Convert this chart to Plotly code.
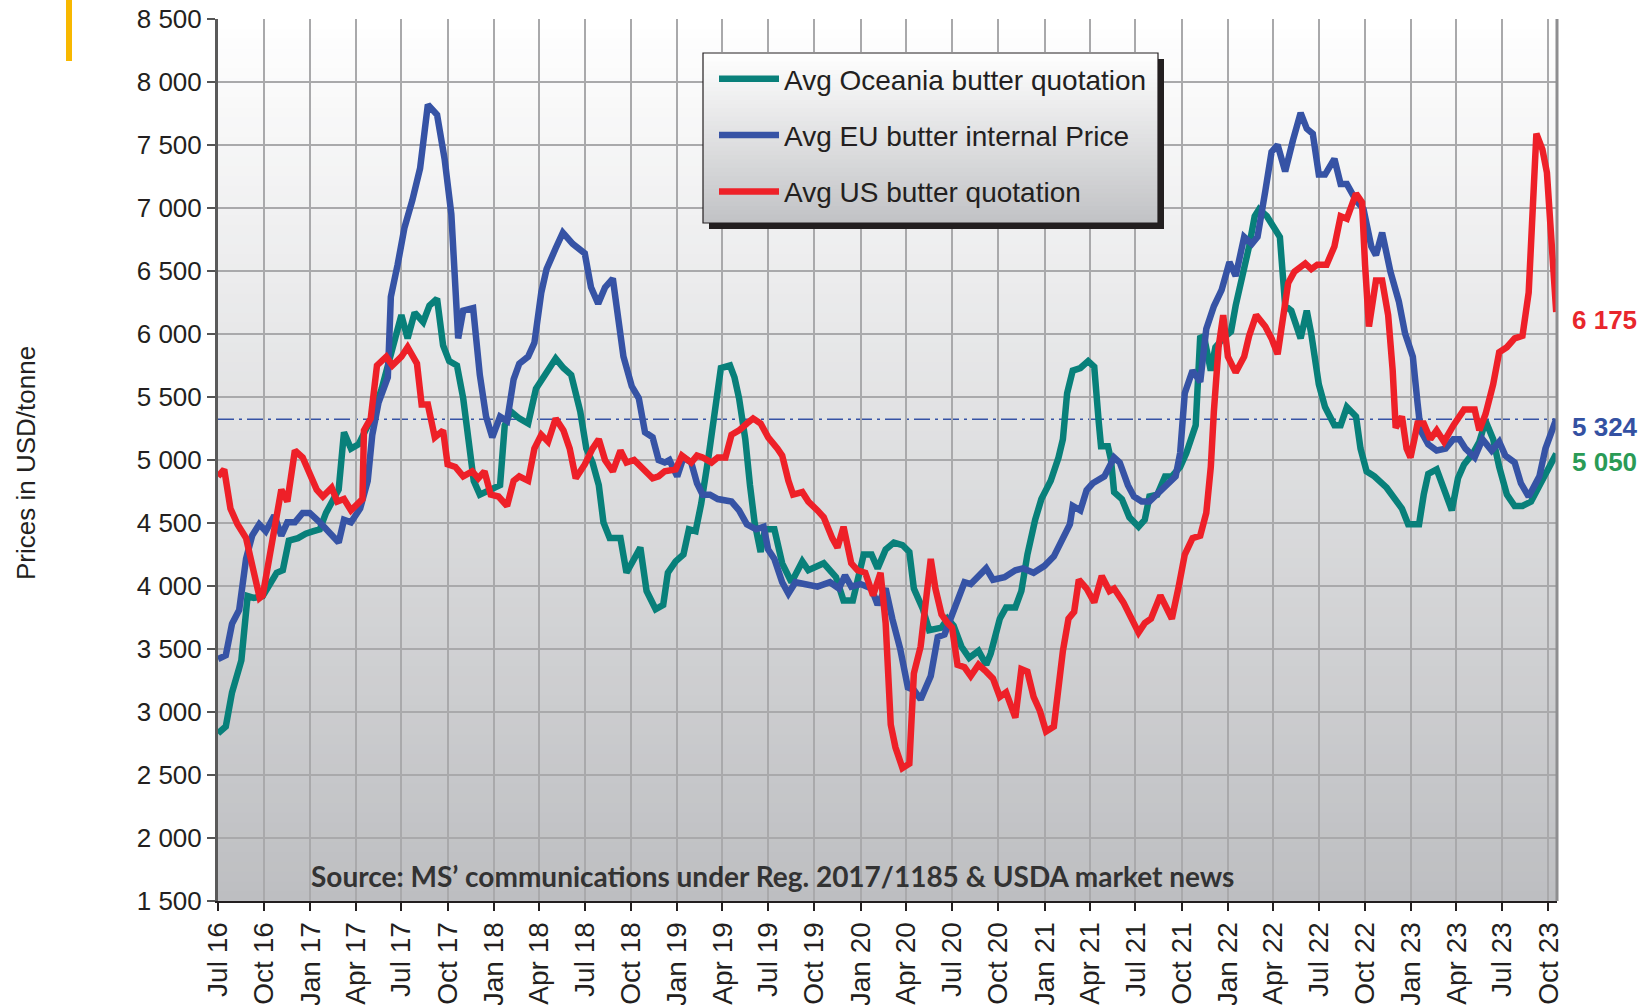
import calendar
from datetime import datetime, timedelta
import plotly.graph_objects as go

# ---------------- data (month offset from Jul 2016, USD/tonne) ----------------
OCEANIA = [(0,2830),(0.5,2885),(0.9,3155),(1.5,3410),(1.9,3920),(2.3,3905),(2.9,3920),(3.3,3995),(3.8,4105),(4.2,4125),
    (4.6,4360),(5.2,4380),(5.7,4415),(6.2,4435),(6.6,4450),(7.0,4580),(7.6,4710),(7.9,4765),(8.25,5220),(8.7,5090),
    (9.2,5125),(9.7,5235),(10.1,5345),(10.7,5565),(11.2,5785),(11.6,5965),(12.0,6150),(12.4,5965),(12.85,6170),(13.4,6095),
    (13.8,6225),(14.3,6280),(14.7,5910),(15.1,5785),(15.6,5750),(16.0,5490),(16.3,5165),(16.7,4835),(17.1,4725),(17.8,4765),
    (18.4,4800),(18.7,5275),(19.1,5385),(19.7,5330),(20.3,5290),(20.8,5565),(21.4,5675),(21.7,5710),(22.1,5805),(22.6,5730),
    (23.1,5675),(23.7,5385),(24.1,5090),(24.5,4980),(24.9,4800),(25.2,4505),(25.6,4380),(26.3,4380),(26.7,4105),(27.6,4305),
    (28.0,3960),(28.6,3815),(29.1,3850),(29.4,4105),(29.9,4195),(30.4,4250),(30.75,4450),(31.2,4435),(31.6,4655),(32.1,5020),
    (32.3,5220),(32.6,5455),(32.9,5730),(33.5,5750),(33.8,5655),(34.1,5490),(34.5,5165),(34.8,4800),(35.1,4505),(35.5,4270),
    (35.8,4450),(36.4,4450),(36.9,4180),(37.5,4030),(38.2,4195),(38.6,4125),(39.6,4180),(40.4,4070),(40.9,3885),(41.5,3885),
    (41.9,4070),(42.2,4250),(42.7,4250),(43.1,4140),(43.65,4290),(44.2,4345),(44.75,4325),(45.2,4270),(45.5,3980),(46.1,3815),
    (46.5,3650),(47.3,3670),(47.7,3740),(48.1,3685),(48.6,3520),(49.1,3430),(49.7,3485),(50.2,3375),(50.5,3465),(51.1,3740),
    (51.5,3830),(52.1,3830),(52.5,3960),(52.9,4250),(53.4,4525),(53.8,4690),(54.4,4835),(54.9,5020),(55.2,5165),(55.5,5530),
    (55.9,5710),(56.4,5730),(56.9,5785),(57.3,5740),(57.6,5300),(57.75,5110),(58.2,5110),(58.4,5000),(58.6,4745),(59.1,4690),
    (59.6,4545),(60.2,4470),(60.6,4525),(60.9,4710),(61.4,4725),(61.9,4870),(62.35,4870),(62.9,4945),(63.3,5055),(63.9,5275),
    (64.2,5985),(64.5,5950),(64.9,5710),(65.2,5895),(65.7,5965),(66.2,6020),(66.5,6225),(66.9,6425),(67.4,6695),(67.8,6935),
    (68.1,6990),(68.6,6935),(69.1,6845),(69.45,6770),(69.8,6225),(70.2,6185),(70.8,5965),(71.2,6185),(71.5,6000),(72.0,5600),
    (72.4,5420),(73.0,5275),(73.4,5275),(73.8,5420),(74.4,5345),(74.7,5090),(75.1,4910),(75.6,4870),(76.4,4780),(77.0,4690),
    (77.4,4615),(77.8,4490),(78.5,4490),(78.8,4725),(79.1,4890),(79.7,4925),(80.1,4800),(80.7,4600),(81.1,4855),(81.5,4965),
    (82.1,5055),(82.5,5145),(82.9,5310),(83.4,5165),(83.8,4945),(84.3,4725),(84.8,4635),(85.3,4635),(85.85,4670),(86.4,4800),
    (86.9,4890),(87.5,5050)]

EU = [(0,3420),(0.5,3450),(0.9,3700),(1.36,3810),(1.8,4215),(2.2,4400),(2.67,4490),(3.1,4435),(3.65,4560),(4.1,4400),
    (4.5,4505),(5.0,4505),(5.5,4580),(5.95,4580),(6.6,4505),(7.26,4415),(7.9,4345),(8.25,4525),(8.7,4505),(9.3,4615),
    (9.8,4835),(10.1,5200),(10.5,5455),(11.1,5655),(11.3,6295),(11.75,6550),(12.2,6845),(12.7,7060),(13.2,7315),(13.7,7820),
    (14.3,7740),(14.8,7390),(15.24,6950),(15.68,5965),(16.0,6185),(16.66,6205),(17.1,5675),(17.5,5345),(17.9,5180),(18.4,5345),
    (18.85,5310),(19.3,5640),(19.7,5765),(20.3,5820),(20.7,5930),(21.15,6330),(21.5,6515),(22.1,6680),(22.56,6805),(23.2,6715),
    (24.0,6640),(24.4,6370),(24.86,6240),(25.3,6370),(25.8,6440),(26.5,5820),(27.05,5585),(27.5,5490),(27.9,5220),(28.4,5180),
    (28.8,5000),(29.2,4980),(29.5,5000),(30.0,4870),(30.4,5020),(30.9,4980),(31.3,4815),(31.7,4725),(32.2,4725),(32.7,4690),
    (33.6,4670),(34.1,4600),(34.6,4490),(35.2,4450),(35.7,4470),(36.0,4290),(36.4,4215),(36.9,4030),(37.3,3940),(37.75,4030),
    (38.3,4015),(39.2,3995),(40.0,4030),(40.6,3980),(41.0,4085),(41.4,3995),(42.0,4015),(42.7,3980),(43.1,3850),(43.65,3980),
    (44.1,3740),(44.6,3505),(45.1,3195),(45.5,3175),(45.95,3100),(46.3,3195),(46.6,3285),(47.05,3595),(47.5,3615),(47.9,3740),
    (48.35,3885),(48.8,4030),(49.2,4015),(49.7,4085),(50.2,4140),(50.65,4050),(51.4,4070),(52.1,4125),(52.6,4140),(53.3,4105),
    (54.0,4160),(54.6,4235),(55.2,4380),(55.7,4490),(55.9,4635),(56.4,4600),(56.8,4760),(57.2,4815),(57.97,4870),(58.6,5020),
    (58.96,4980),(59.5,4800),(59.9,4710),(60.4,4670),(60.9,4670),(61.5,4745),(62.0,4815),(62.6,4870),(62.9,5055),(63.2,5530),
    (63.7,5710),(64.2,5620),(64.6,6040),(65.1,6220),(65.6,6350),(66.1,6570),(66.5,6460),(67.05,6770),(67.6,6715),(68.0,6770),
    (68.5,7135),(68.9,7445),(69.3,7500),(69.8,7290),(70.3,7535),(70.8,7755),(71.2,7630),(71.6,7590),(72.0,7265),(72.4,7265),
    (73.0,7390),(73.4,7190),(73.8,7190),(74.4,7060),(74.9,6990),(75.4,6695),(75.7,6625),(76.1,6805),(76.65,6495),(77.2,6260),
    (77.6,6005),(78.1,5820),(78.4,5455),(78.6,5235),(79.1,5125),(79.7,5075),(80.3,5090),(80.8,5165),(81.2,5165),(81.6,5090),
    (82.2,5020),(82.7,5165),(83.3,5075),(83.8,5145),(84.2,5035),(84.8,4980),(85.2,4815),(85.7,4710),(86.4,4870),(86.8,5090),
    (87.5,5324)]

US = [(0,4870),(0.4,4925),(0.8,4615),(1.25,4490),(1.8,4380),(2.2,4140),(2.7,3905),(2.9,3925),(3.3,4215),(3.8,4505),
    (4.1,4765),(4.5,4670),(5.0,5075),(5.5,5020),(6.0,4870),(6.4,4765),(6.8,4710),(7.4,4780),(7.8,4670),(8.25,4690),
    (8.7,4600),(9.1,4655),(9.45,4690),(9.55,5235),(10.0,5330),(10.4,5750),(11.0,5820),(11.4,5750),(12.0,5820),(12.4,5895),
    (13.0,5765),(13.3,5440),(13.7,5440),(14.15,5180),(14.7,5235),(15.0,4965),(15.5,4945),(16.0,4870),(16.6,4910),(17.0,4855),
    (17.4,4910),(17.8,4725),(18.3,4710),(18.85,4635),(19.3,4835),(19.7,4870),(20.3,4835),(20.7,5090),(21.15,5200),(21.6,5145),
    (22.1,5330),(22.6,5235),(23.0,5090),(23.4,4855),(24.0,4965),(24.5,5090),(24.9,5165),(25.3,5000),(25.8,4910),(26.3,5075),
    (26.7,4980),(27.2,5000),(27.8,4925),(28.4,4855),(28.8,4870),(29.2,4910),(29.9,4925),(30.3,5035),(30.9,4980),(31.3,5035),
    (31.7,5020),(32.3,4980),(32.7,5020),(33.2,5020),(33.6,5200),(34.1,5235),(34.6,5290),(35.0,5330),(35.5,5290),(36.0,5180),
    (36.6,5090),(36.9,5035),(37.3,4835),(37.6,4725),(38.2,4745),(38.6,4670),(39.2,4600),(39.6,4545),(40.15,4380),(40.5,4305),
    (40.9,4470),(41.4,4180),(41.8,4125),(42.3,4105),(42.8,3925),(43.3,4105),(43.65,3705),(44.0,2900),(44.3,2720),(44.75,2555),
    (45.2,2590),(45.5,3305),(45.95,3520),(46.3,3850),(46.6,4215),(46.9,3980),(47.3,3775),(47.7,3705),(48.0,3670),(48.35,3375),
    (48.8,3355),(49.2,3285),(49.7,3375),(50.2,3320),(50.65,3265),(51.1,3120),(51.5,3155),(52.1,2955),(52.5,3340),(52.9,3320),
    (53.3,3120),(53.7,3010),(54.1,2845),(54.6,2885),(54.9,3195),(55.2,3485),(55.6,3740),(56.0,3795),(56.3,4050),(56.8,3980),
    (57.3,3870),(57.8,4080),(58.3,3960),(58.6,3980),(59.2,3870),(59.6,3775),(60.2,3630),(60.6,3705),(61.0,3740),(61.6,3925),
    (62.0,3815),(62.35,3740),(62.8,3995),(63.2,4250),(63.7,4380),(64.2,4400),(64.6,4580),(64.9,4945),(65.1,5385),(65.4,5895),
    (65.7,6150),(66.0,5820),(66.5,5695),(67.05,5820),(67.4,5985),(67.9,6150),(68.5,6060),(68.9,5965),(69.3,5840),(69.7,6150),
    (70.0,6405),(70.4,6495),(71.1,6560),(71.5,6515),(71.9,6550),(72.5,6550),(73.0,6695),(73.4,6935),(73.8,6915),(74.4,7115),
    (74.8,7045),(75.0,6550),(75.25,6060),(75.7,6425),(76.1,6425),(76.5,6150),(76.8,5710),(77.0,5255),(77.4,5345),(77.7,5090),
    (77.95,5020),(78.2,5165),(78.4,5290),(78.8,5290),(79.25,5165),(79.7,5235),(80.2,5145),(80.8,5275),(81.5,5400),(82.2,5400),
    (82.5,5235),(82.9,5365),(83.4,5600),(83.8,5855),(84.3,5895),(84.8,5965),(85.3,5985),(85.7,6330),(86.2,7590),(86.6,7465),
    (86.9,7280),(87.5,6175)]

SERIES_NAMES = ["Avg Oceania butter quotation", "Avg EU butter internal Price", "Avg US butter quotation"]
SERIES_COLORS = ["#08807a", "#3653a5", "#ee2028"]
LAST_LABELS = ["5 050", "5 324", "6 175"]
LABEL_COLORS = ["#2a9b56", "#3451a2", "#e8262c"]
EU_REFERENCE = 5324
Y_TICKS = list(range(1500, 8501, 500))
X_END_MONTH = 87.55
SOURCE = "Source: MS\u2019 communications under Reg. 2017/1185 & USDA market news"


def to_date(m):
    k = int(m // 1)
    frac = m - k
    y = 2016 + (6 + k) // 12
    mo = (6 + k) % 12 + 1
    dim = calendar.monthrange(y, mo)[1]
    return datetime(y, mo, 1) + timedelta(days=frac * dim)


# plot-area geometry in pixels
W, H = 1649, 1005
L, R, T, B = 218, 1557, 19, 901
PW, PH = R - L, B - T


def px_x(x):
    return (x - L) / PW


def px_y(y):
    return (B - y) / PH


fig = go.Figure()
for i, data in enumerate([OCEANIA, EU, US]):
    fig.add_trace(go.Scatter(
        x=[to_date(m) for m, _ in data], y=[v for _, v in data], mode="lines",
        name=SERIES_NAMES[i], legendgroup=str(i),
        line=dict(color=SERIES_COLORS[i], width=6.5), hoverinfo="skip"))

shapes = []
# plot background gradient
N = 90
for i in range(N):
    t = (i + 0.5) / N
    c = [round(255 + (b - 255) * (1 - t)) for b in (189, 190, 193)]
    shapes.append(dict(type="rect", xref="paper", yref="paper", x0=0, x1=1,
                       y0=i / N, y1=(i + 1) / N + 0.002, layer="below",
                       fillcolor=f"rgb({c[0]},{c[1]},{c[2]})", line=dict(width=0)))
# reference dash-dot line
shapes.append(dict(type="line", xref="paper", yref="y", x0=0, x1=1, y0=EU_REFERENCE, y1=EU_REFERENCE,
                   layer="between", line=dict(color="#3653a5", width=1.6, dash="16px,5px,3px,5px")))
# right border
shapes.append(dict(type="line", xref="paper", yref="paper", x0=1, x1=1, y0=0, y1=1,
                   line=dict(color="#8e8e90", width=3)))
# legend box with shadow & gradient
lx0, lx1, ly1, ly0 = px_x(703), px_x(1158), px_y(53), px_y(223)
dx, dy = 6 / PW, 6 / PH
shapes.append(dict(type="rect", xref="paper", yref="paper", x0=lx0 + dx, x1=lx1 + dx, y0=ly0 - dy, y1=ly1 - dy,
                   layer="above", fillcolor="#231f20", line=dict(width=0)))
NB = 40
for i in range(NB):
    t = (i + 0.5) / NB
    c = [round(255 + (b - 255) * (1 - t)) for b in (193, 194, 197)]
    shapes.append(dict(type="rect", xref="paper", yref="paper", x0=lx0, x1=lx1,
                       y0=ly0 + (ly1 - ly0) * i / NB, y1=ly0 + (ly1 - ly0) * (i + 1) / NB + 0.001,
                       layer="above", fillcolor=f"rgb({c[0]},{c[1]},{c[2]})", line=dict(width=0)))
shapes.append(dict(type="rect", xref="paper", yref="paper", x0=lx0, x1=lx1, y0=ly0, y1=ly1,
                   layer="above", fillcolor="rgba(0,0,0,0)", line=dict(color="#231f20", width=1.2)))
# orange marker at top-left
shapes.append(dict(type="rect", xref="paper", yref="paper", x0=px_x(66), x1=px_x(72), y0=px_y(61), y1=px_y(-5),
                   fillcolor="#f8b800", line=dict(width=0)))

annotations = [
    dict(text="Prices in USD/tonne", xref="paper", yref="paper", x=px_x(26), y=px_y(463), textangle=-90,
         showarrow=False, xanchor="center", yanchor="middle",
         font=dict(family="Liberation Sans, Arial", size=26, color="#231f20")),
    dict(text=f"<b>{SOURCE}</b>", xref="paper", yref="paper", x=px_x(772), y=px_y(876), showarrow=False,
         xanchor="center", yanchor="middle", font=dict(family="Lato, Liberation Sans", size=28, color="#333333")),
]
last_vals = [OCEANIA[-1][1], EU[-1][1], US[-1][1]]
for i in range(3):
    annotations.append(dict(text=f"<b>{LAST_LABELS[i]}</b>", xref="paper", yref="y", x=px_x(1570), y=last_vals[i],
                            yshift=-8, showarrow=False, xanchor="left", yanchor="middle",
                            font=dict(family="Liberation Sans, Arial", size=26, color=LABEL_COLORS[i])))

fig.update_layout(
    width=W, height=H, margin=dict(l=L, r=W - R, t=T, b=H - B, autoexpand=False),
    paper_bgcolor="white", plot_bgcolor="white", separators=". ",
    shapes=shapes, annotations=annotations,
    showlegend=True,
    legend=dict(x=px_x(714), y=px_y(54), xanchor="left", yanchor="top", bgcolor="rgba(0,0,0,0)",
                borderwidth=0, itemwidth=60, tracegroupgap=17,
                font=dict(family="Liberation Sans, Arial", size=28, color="#231f20")),
    xaxis=dict(type="date", range=[to_date(0), to_date(X_END_MONTH)], tick0="2016-07-01", dtick="M3",
               tickformat="%b %y", tickangle=-90, ticks="outside", ticklen=8, tickwidth=1.5, tickcolor="#231f20",
               showgrid=True, gridcolor="#a9a9ab", gridwidth=1.5, showline=True, linecolor="#231f20",
               linewidth=2, zeroline=False, automargin=False,
               tickfont=dict(family="Liberation Sans, Arial", size=28, color="#231f20")),
    yaxis=dict(range=[1500, 8500], tickvals=Y_TICKS, tickformat=",d", ticks="outside", ticklen=8,
               tickwidth=1.5, tickcolor="#555555", showgrid=True, gridcolor="#a9a9ab", gridwidth=1.5,
               showline=True, linecolor="#5a5a5a", linewidth=3, zeroline=False, automargin=False,
               tickfont=dict(family="Liberation Sans, Arial", size=26, color="#231f20")),
)

fig.write_html("out.html", config={"displayModeBar": False},
               post_script="document.body.style.margin='0';document.body.style.overflow='hidden';")
